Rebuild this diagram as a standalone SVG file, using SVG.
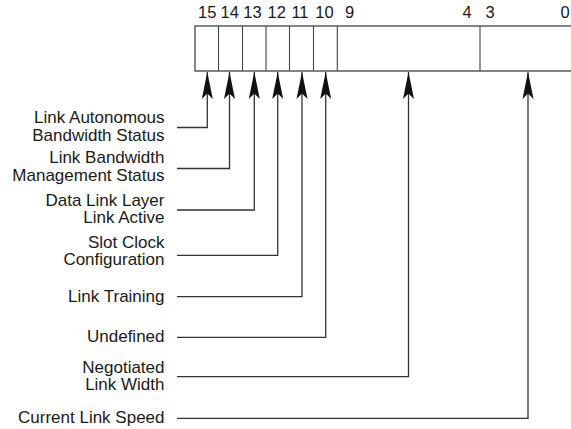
<svg xmlns="http://www.w3.org/2000/svg" width="571" height="429" viewBox="0 0 571 429">
  <style>
    .t { font-family: "Liberation Sans", Arial, Helvetica, sans-serif; font-size: 17px; fill: #1a1a1a; }
    .lbl { text-anchor: end; }
    .num { text-anchor: middle; font-size: 16.5px; }
    .box { fill: #fff; stroke: #333; stroke-width: 1.2; }
    .div { stroke: #444; stroke-width: 1.1; fill: none; }
    .conn { fill: none; stroke: #333; stroke-width: 1.3; marker-end: url(#arr); }
  </style>
  <defs>
    <marker id="arr" markerUnits="userSpaceOnUse" viewBox="-27 -6 28 12" refX="0" refY="0" markerWidth="28" markerHeight="12" orient="auto">
      <path d="M0,0 L-27,-5.5 L-21.5,0 L-27,5.5 Z" fill="#111"/>
    </marker>
  </defs>
  <rect width="571" height="429" fill="#fff"/>

  <g id="register">
    <rect class="box" x="195" y="26" width="382" height="45"/>
    <path class="div" d="M218.5,26V71 M242.5,26V71 M266,26V71 M289.5,26V71 M313.5,26V71 M337.3,26V71 M480,26V71"/>
    <text class="t num" x="207.2" y="18.3">15</text>
    <text class="t num" x="229.7" y="18.3">14</text>
    <text class="t num" x="252.5" y="18.3">13</text>
    <text class="t num" x="276.7" y="18.3">12</text>
    <text class="t num" x="300" y="18.3">11</text>
    <text class="t num" x="324.5" y="18.3">10</text>
    <text class="t num" x="349.5" y="18.3">9</text>
    <text class="t num" x="467" y="18.3">4</text>
    <text class="t num" x="490" y="18.3">3</text>
    <text class="t num" x="565" y="18.3">0</text>
  </g>

  <g id="label-autonomous">
    <text class="t lbl" x="164.5" y="123.3">Link Autonomous</text>
    <text class="t lbl" x="164.5" y="141">Bandwidth Status</text>
  </g>
  <g id="label-bandwidth-mgmt">
    <text class="t lbl" x="164.5" y="163.3">Link Bandwidth</text>
    <text class="t lbl" x="164.5" y="181">Management Status</text>
  </g>
  <g id="label-dll-active">
    <text class="t lbl" x="164.5" y="205.7">Data Link Layer</text>
    <text class="t lbl" x="164.5" y="222.7">Link Active</text>
  </g>
  <g id="label-slot-clock">
    <text class="t lbl" x="164.5" y="248.3">Slot Clock</text>
    <text class="t lbl" x="164.5" y="265">Configuration</text>
  </g>
  <g id="label-link-training">
    <text class="t lbl" x="164.5" y="302">Link Training</text>
  </g>
  <g id="label-undefined">
    <text class="t lbl" x="164.5" y="342">Undefined</text>
  </g>
  <g id="label-negotiated-width">
    <text class="t lbl" x="164.5" y="372.7">Negotiated</text>
    <text class="t lbl" x="164.5" y="390">Link Width</text>
  </g>
  <g id="label-current-speed">
    <text class="t lbl" x="164.5" y="422.5">Current Link Speed</text>
  </g>

  <g id="connectors">
    <path class="conn" d="M177,127.5H207.3V72"/>
    <path class="conn" d="M177,168.5H229.5V72"/>
    <path class="conn" d="M177,210H254.3V72"/>
    <path class="conn" d="M177,255.3H277.7V72"/>
    <path class="conn" d="M177,296.7H302V72"/>
    <path class="conn" d="M177,337.3H325.7V72"/>
    <path class="conn" d="M177,376.7H408.5V72"/>
    <path class="conn" d="M177,418.3H528V72"/>
  </g>
</svg>
